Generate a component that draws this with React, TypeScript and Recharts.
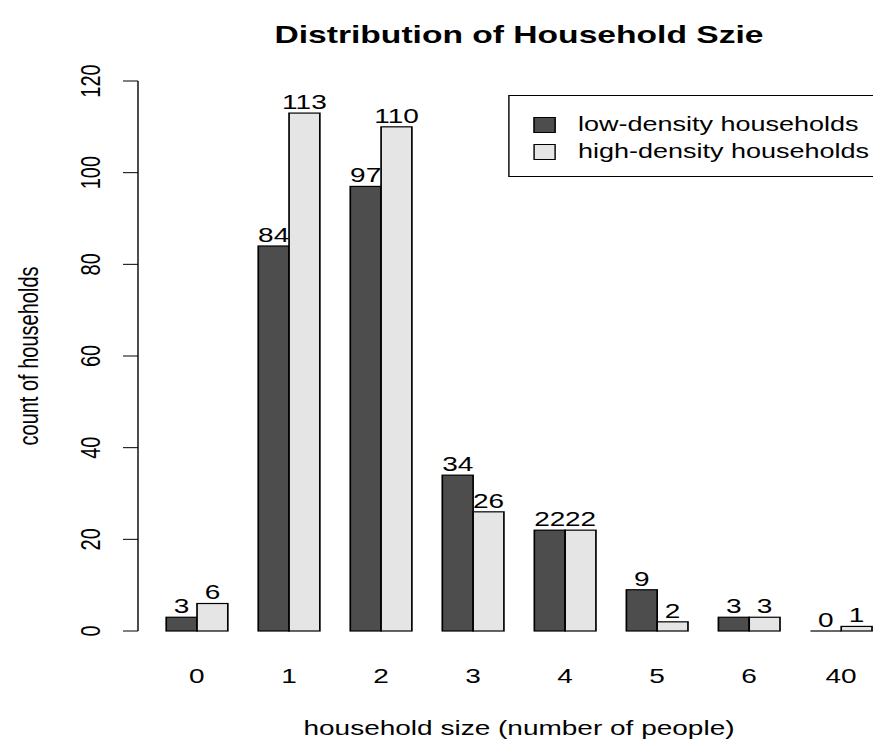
import React from 'react';
import { BarChart, Bar, XAxis, YAxis, Legend, LabelList } from 'recharts';

// ---- data ----
const categories = ['0', '1', '2', '3', '4', '5', '6', '40'];
const lowDensity = [3, 84, 97, 34, 22, 9, 3, 0];
const highDensity = [6, 113, 110, 26, 22, 2, 3, 1];
const yTicks = [0, 20, 40, 60, 80, 100, 120];
const seriesNames = ['low-density households', 'high-density households'];
const seriesColors = ['#4D4D4D', '#E5E5E5'];
const titleText = 'Distribution of Household Szie';
const xLabelText = 'household size (number of people)';
const yLabelText = 'count of households';

const data = categories.map((c, i) => ({ size: c, low: lowDensity[i], high: highDensity[i] }));

// ---- layout (design coords; whole picture stretched horizontally) ----
const SX = 1.4;
const FONT = '"Liberation Sans", Arial, Helvetica, sans-serif';
const CHART_W = 660;
const CHART_H = 748;
const PLOT_LEFT = 138 / SX;
const PLOT_RIGHT = 900 / SX;
const PLOT_TOP = 81;
const PLOT_BOTTOM = 631;
const X_AXIS_H = 40;
const FS = 20;
const LEGEND_FS = 19.3;

const BarShape = (props: any) => {
  const { x, y, width, height, fill } = props;
  if (!height) {
    return <line x1={x} x2={x + width} y1={y} y2={y} stroke="#000" strokeWidth={1.2} />;
  }
  return <rect x={x} y={y} width={width} height={height} fill={fill} stroke="#000" strokeWidth={1.2} />;
};

const YTick = (props: any) => {
  const { x, y, payload } = props;
  return (
    <text transform={`translate(${x},${y}) rotate(-90)`} textAnchor="middle" fontSize={FS} fill="#000">
      {payload.value}
    </text>
  );
};

const XTick = (props: any) => {
  const { x, y, payload } = props;
  return (
    <text x={x} y={y} textAnchor="middle" fontSize={FS} fill="#000">
      {payload.value}
    </text>
  );
};

const YLabel = (props: any) => {
  const vb = props.viewBox || {};
  const vx = vb.x ?? 0;
  const cy = (vb.y ?? PLOT_TOP) + (vb.height ?? PLOT_BOTTOM - PLOT_TOP) / 2;
  return (
    <text transform={`translate(${vx + 27},${cy}) rotate(-90)`} textAnchor="middle" fontSize={FS} fill="#000">
      {yLabelText}
    </text>
  );
};

const XLabel = (props: any) => {
  const vb = props.viewBox || {};
  const cx = (vb.x ?? PLOT_LEFT) + (vb.width ?? PLOT_RIGHT - PLOT_LEFT) / 2;
  const y = (vb.y ?? PLOT_BOTTOM) + 104;
  return (
    <text x={cx} y={y} textAnchor="middle" fontSize={FS} fill="#000">
      {xLabelText}
    </text>
  );
};

const LegendBox = () => {
  return (
    <div
      style={{
        border: '1px solid #000',
        background: '#fff',
        width: 300,
        height: 82,
        boxSizing: 'border-box',
        position: 'relative',
        fontFamily: FONT,
      }}
    >
      {seriesNames.map((name, i) => (
        <div key={name} style={{ position: 'absolute', left: 0, top: 29 + i * 27 - 12, height: 24, display: 'flex', alignItems: 'center' }}>
          <span
            style={{
              display: 'inline-block',
              marginLeft: 17,
              width: 14,
              height: 14,
              background: seriesColors[i],
              border: '1px solid #000',
            }}
          />
          <span style={{ marginLeft: 16, fontSize: LEGEND_FS, lineHeight: '24px', color: '#000', whiteSpace: 'nowrap' }}>{name}</span>
        </div>
      ))}
    </div>
  );
};

export default function App() {
  return (
    <div
      style={{
        position: 'absolute',
        left: 0,
        top: 0,
        width: 873,
        height: 748,
        overflow: 'hidden',
        background: '#fff',
        fontFamily: FONT,
      }}
    >
      <div
        style={{
          position: 'absolute',
          left: 0,
          top: 0,
          width: CHART_W,
          height: CHART_H,
          transform: `scaleX(${SX})`,
          transformOrigin: '0 0',
        }}
      >
        <div
          style={{
            position: 'absolute',
            left: PLOT_LEFT,
            width: PLOT_RIGHT - PLOT_LEFT,
            top: 23,
            textAlign: 'center',
            fontWeight: 'bold',
            fontSize: 24,
            lineHeight: '24px',
            color: '#000',
            whiteSpace: 'nowrap',
          }}
        >
          {titleText}
        </div>
        <BarChart
          width={CHART_W}
          height={CHART_H}
          data={data}
          margin={{ top: PLOT_TOP, right: CHART_W - PLOT_RIGHT, bottom: CHART_H - PLOT_BOTTOM - X_AXIS_H, left: 0 }}
          barCategoryGap="16.67%"
          barGap={0}
        >
          <XAxis
            dataKey="size"
            height={X_AXIS_H}
            axisLine={false}
            tickLine={false}
            tickSize={0}
            tickMargin={52}
            interval={0}
            padding={{ left: 9.2, right: 9.2 }}
            tick={<XTick />}
            label={(p: any) => <XLabel {...p} />}
          />
          <YAxis
            width={PLOT_LEFT}
            domain={[0, 120]}
            ticks={yTicks}
            interval={0}
            tickSize={10.7}
            tickMargin={16.5}
            axisLine={{ stroke: '#000', strokeWidth: 1 }}
            tickLine={{ stroke: '#000', strokeWidth: 1 }}
            tick={<YTick />}
            label={(p: any) => <YLabel {...p} />}
          />
          <Legend
            layout="horizontal"
            verticalAlign="middle"
            align="center"
            content={<LegendBox />}
            wrapperStyle={{ position: 'absolute', left: 508 / SX, top: 95, width: 300, height: 82 }}
          />
          <Bar dataKey="low" name={seriesNames[0]} fill={seriesColors[0]} shape={BarShape} isAnimationActive={false}>
            <LabelList dataKey="low" position="top" offset={4} fill="#000" fontSize={FS} />
          </Bar>
          <Bar dataKey="high" name={seriesNames[1]} fill={seriesColors[1]} shape={BarShape} isAnimationActive={false}>
            <LabelList dataKey="high" position="top" offset={4} fill="#000" fontSize={FS} />
          </Bar>
        </BarChart>
      </div>
    </div>
  );
}
